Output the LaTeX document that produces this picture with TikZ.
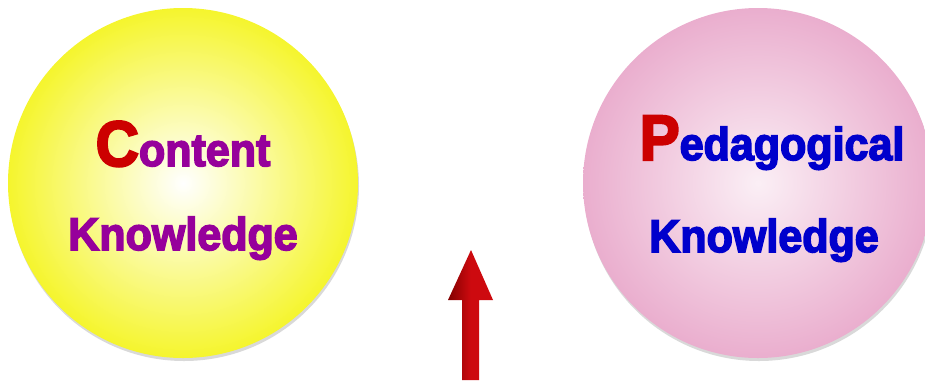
\documentclass[tikz,border=0pt]{standalone}
\usepackage{fontspec}
\newfontfamily\heavy[FakeBold=3.5]{Liberation Sans Bold}
\definecolor{ball-yellow}{RGB}{245,245,45}
\definecolor{ball-pink}{RGB}{234,174,206}
\definecolor{text-purple}{RGB}{150,0,155}
\definecolor{text-blue}{RGB}{0,0,204}
\definecolor{text-red}{RGB}{204,0,0}
\definecolor{arrow-red}{RGB}{205,10,15}
\definecolor{arrow-dark}{RGB}{130,0,0}

\begin{document}
\begin{tikzpicture}[x=1pt, y=-1pt,
      every node/.style={inner sep=0pt},
      ball/.style={circle, minimum size=350pt},
      word/.style={anchor=base, yscale=1.07, transform shape,
                   font=\heavy\fontsize{43}{43}\selectfont}]
    \useasboundingbox (0,0) rectangle (925,384);
    % shadows under the two balls
    \fill[black!15] (184,186) circle (175);
    \fill[black!15] (759,186) circle (175);
    \node[ball, inner color=white, outer color=ball-yellow] (CK) at (183,183) {};
    \node[ball, inner color=white!80!ball-pink, outer color=ball-pink] (PK) at (758,183) {};
    \node[word, text=text-purple] (CK1) at (183,166) {{\color{text-red}\fontsize{60}{60}\selectfont C}ontent};
    \node[word, text=text-purple] (CK2) at (183,250) {Knowledge};
    \node[word, text=text-blue] (PK1) at (772,160) {{\color{text-red}\fontsize{60}{60}\selectfont P}edagogical};
    \node[word, text=text-blue] (PK2) at (764,252) {Knowledge};
    % the red arrow
    \shade[left color=arrow-dark, right color=arrow-red, middle color=arrow-red]
      (462,380) -- (462,300) -- (448,300) -- (471,250) -- (493,300) -- (479,300) -- (479,380) -- cycle;
  \end{tikzpicture}
\end{document}
